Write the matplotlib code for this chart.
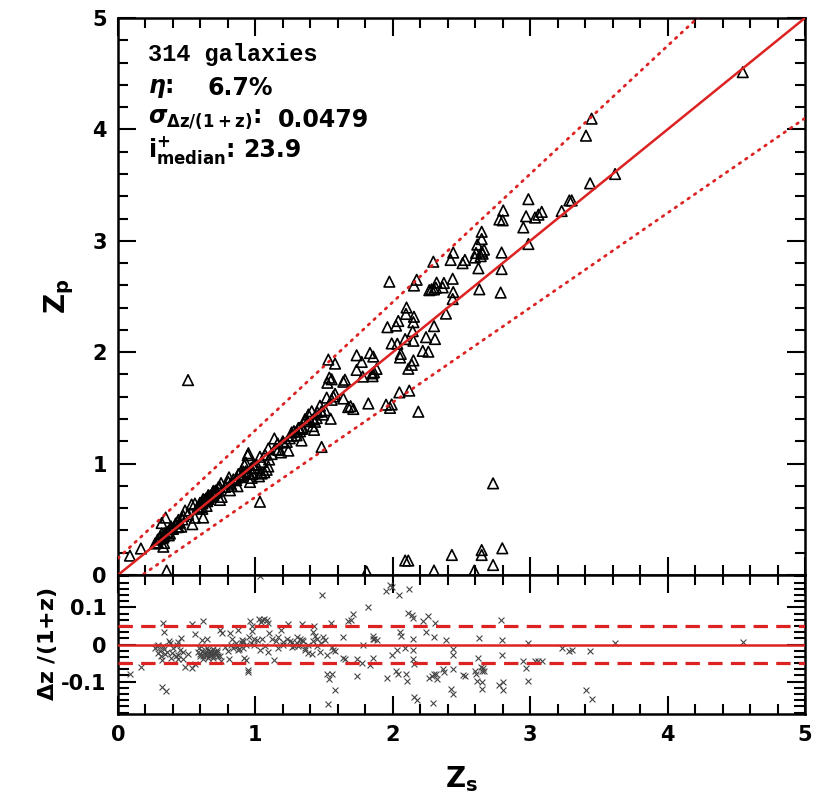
import numpy as np
import matplotlib.pyplot as plt
from matplotlib.ticker import MultipleLocator

plt.rcParams['mathtext.fontset'] = 'custom'
plt.rcParams['mathtext.rm'] = 'DejaVu Sans:bold'
plt.rcParams['mathtext.it'] = 'DejaVu Sans:italic:bold'
plt.rcParams['mathtext.bf'] = 'DejaVu Sans:bold'

# spectroscopic z and residual (zs - zp)/(1+zs)
zs_a = [0.087, 0.167, 0.318, 0.347, 0.33, 0.335, 0.286, 0.306, 0.337, 0.342, 0.318, 0.289,
        0.378, 0.39, 0.386, 0.44, 0.45, 0.46, 0.434, 0.44, 0.475, 0.51, 0.541, 0.536, 0.56,
        0.488, 0.62, 0.614, 0.604, 0.614, 0.597, 0.62, 0.645, 0.657, 0.67, 0.68, 0.694,
        0.706, 0.718, 0.73, 0.694, 0.657, 0.633, 0.75, 0.742, 0.779, 0.815, 0.803, 0.808,
        0.827, 0.87, 0.864, 0.876, 0.9, 0.905, 0.912, 0.92, 0.93, 0.944, 0.949, 0.961,
        0.973, 0.978, 1.026, 1.046, 1.065, 1.082, 1.04, 1.094, 1.046, 1.033, 1.07, 1.094,
        1.138, 1.118, 1.167, 1.186, 1.203, 1.228, 1.24, 1.264, 1.01, 0.992, 1.162, 0.754, 0.56]
dz_a = [-0.080, -0.061, -0.113, -0.125, 0.057, 0.035, -0.005, -0.018, -0.012, -0.025, -0.041, -0.023,
        0.004, -0.023, -0.036, 0.006, -0.014, 0.018, -0.029, -0.038, -0.038, -0.025, 0.055, -0.063, -0.052,
        -0.061, 0.064, 0.012, -0.005, -0.018, -0.032, -0.038, 0.015, -0.016, -0.025, -0.020, -0.012,
        -0.023, -0.016, -0.032, -0.036, -0.036, -0.025, -0.043, 0.039, -0.007, 0.030, -0.018, -0.038,
        0.015, 0.039, -0.005, -0.016, 0.011, 0.004, -0.009, -0.036, -0.041, -0.068, -0.074, 0.064,
        0.051, 0.036, 0.069, 0.066, 0.069, 0.066, 0.060, 0.057, 0.015, -0.014, -0.005, -0.020,
        -0.041, 0.015, 0.020, 0.039, 0.006, 0.015, 0.055, -0.007, 0.011, 0.000, -0.009, 0.030, 0.029]

zs_b = [1.264, 1.336, 1.30, 1.313, 1.325, 1.344, 1.361, 1.386, 1.41, 1.417, 1.427, 1.434,
        1.446, 1.47, 1.482, 1.49, 1.507, 1.519, 1.524, 1.538, 1.555, 1.548, 1.555, 1.567,
        1.58, 1.58, 1.531, 1.64, 1.652, 1.676, 1.693, 1.713, 1.737, 1.781, 1.774, 1.822,
        1.834, 1.853, 1.863, 1.882, 1.951, 1.98, 1.992, 2.048, 1.961, 1.992, 2.024, 2.04,
        2.033, 2.053, 2.058, 2.09, 2.096, 2.10, 2.12, 2.113, 2.138, 2.15, 2.15, 2.145,
        2.15, 2.154, 2.154, 2.174, 2.218, 2.242, 2.259, 2.30, 2.307, 2.295, 2.266, 2.282,
        2.30, 2.314, 2.319, 2.363, 2.372, 2.387, 2.436, 2.44, 2.436, 2.421, 2.44, 2.508,
        1.64, 1.737, 1.858, 1.853]
dz_b = [0.006, 0.055, 0.020, -0.003, 0.015, 0.009, -0.016, -0.023, -0.025, 0.033, 0.051, 0.024,
        0.015, -0.020, 0.134, 0.020, 0.011, -0.029, -0.080, -0.092, -0.079, 0.057, -0.007, -0.014,
        -0.018, -0.123, -0.159, 0.021, -0.038, 0.063, 0.066, 0.082, -0.086, 0.000, -0.050, 0.100,
        -0.056, 0.024, 0.015, 0.011, 0.143, 0.161, 0.154, 0.134, -0.089, -0.029, -0.071, -0.079,
        -0.014, 0.033, 0.024, -0.009, -0.080, -0.097, 0.149, 0.084, 0.080, 0.071, 0.015, -0.014,
        -0.038, -0.052, -0.141, -0.150, 0.064, 0.033, 0.078, 0.020, 0.057, -0.157, -0.089, -0.086,
        -0.080, -0.080, -0.092, -0.065, -0.074, 0.012, -0.012, -0.029, -0.065, -0.119, -0.132, -0.083,
        -0.036, -0.038, -0.036, 0.015]

zs_c = [2.525, 2.598, 2.606, 2.615, 2.623, 2.63, 2.64, 2.647, 2.654, 2.664, 2.647, 2.647,
        2.785, 2.792, 2.792, 2.776, 2.80, 2.804, 2.95, 2.97, 2.987, 2.987, 3.035, 3.06,
        3.084, 3.229, 3.285, 3.302, 3.436, 3.406, 3.447, 3.618, 4.547]
dz_c = [-0.086, -0.070, -0.079, -0.097, -0.036, 0.018, -0.061, -0.070, -0.063, -0.070, -0.101, -0.119,
        0.066, 0.012, -0.027, -0.110, -0.101, -0.123, -0.043, -0.063, 0.004, -0.097, -0.043, -0.043,
        -0.043, -0.009, -0.018, -0.014, -0.018, -0.122, -0.146, 0.004, 0.006]

# crowded parts of the sequence where markers overlap
zs_d = [0.27, 0.29, 0.31, 0.33, 0.36, 0.37, 0.40, 0.42, 0.43, 0.47,
        0.58, 0.60, 0.62, 0.63, 0.64, 0.66, 0.67, 0.69, 0.70, 0.71, 0.72, 0.74, 0.59, 0.65,
        0.82, 0.84, 0.86, 0.88, 0.91, 0.93, 0.95, 0.97, 0.99,
        1.10, 1.15, 1.20, 1.25, 1.28, 1.30, 1.32, 1.34, 1.36, 1.38, 1.42, 1.45, 1.48]
dz_d = [-0.010, 0.000, -0.030, -0.005, -0.020, 0.010, -0.010, -0.030, 0.000, -0.020,
        -0.020, -0.025, -0.030, -0.020, -0.028, -0.030, -0.018, -0.030, -0.020, -0.028, -0.020, -0.030, -0.010, -0.008,
        0.000, -0.010, 0.005, -0.012, 0.010, 0.000, 0.020, 0.005, 0.015,
        0.030, 0.010, 0.000, 0.010, -0.005, 0.005, 0.000, 0.012, -0.010, 0.000, 0.010, -0.005, 0.005]

# catastrophic outliers (zs, zp)
zs_out = [0.51, 0.354, 1.81, 2.09, 2.113, 2.30, 2.43, 2.593, 2.647, 2.647, 2.73, 2.797,
          2.73, 1.975, 2.186, 1.033]
zp_out = [1.75, 0.04, 0.03, 0.13, 0.13, 0.04, 0.18, 0.04, 0.224, 0.18, 0.09, 0.24,
          0.823, 2.633, 1.466, 0.658]

zs_core = np.array(zs_a + zs_b + zs_c + zs_d)
dz_core = np.array(dz_a + dz_b + dz_c + dz_d)
zp_core = zs_core - dz_core * (1 + zs_core)

zs = np.concatenate([zs_core, zs_out])
zp = np.concatenate([zp_core, zp_out])
dz = (zs - zp) / (1 + zs)

red = '#dd2222'
fig = plt.figure(figsize=(8.21, 8.02), dpi=100)
ax1 = fig.add_axes([0.1437, 0.2830, 0.8368, 0.6946])
ax2 = fig.add_axes([0.1437, 0.1097, 0.8368, 0.1733])

xx = np.array([0, 5])
ax1.plot(xx, xx, color=red, lw=1.8, zorder=3)
ax1.plot(xx, xx + 0.15 * (1 + xx), color=red, lw=2, ls=(0, (0.6, 2.2)), dash_capstyle='round', zorder=3)
ax1.plot(xx, xx - 0.15 * (1 + xx), color=red, lw=2, ls=(0, (0.6, 2.2)), dash_capstyle='round', zorder=3)
ax1.scatter(zs, zp, marker='^', s=58, facecolors='none', edgecolors='k', linewidths=1.2, zorder=2)
ax1.set_xlim(0, 5)
ax1.set_ylim(0, 5)
ax1.tick_params(labelbottom=False)
ax1.set_ylabel(r'$\mathrm{Z_p}$', fontsize=20, labelpad=12)

ax2.axhline(0, color=red, lw=1.8, zorder=3)
for v in (0.05, -0.05):
    ax2.axhline(v, color=red, lw=2.3, ls=(0, (4.5, 2.6)), zorder=3)
ax2.scatter(zs, dz, marker='x', s=18, color='#444444', linewidths=0.8, zorder=2)
ax2.set_xlim(0, 5)
ax2.set_ylim(-0.187, 0.187)
ax2.set_yticks([-0.1, 0, 0.1])
ax2.set_yticklabels(['-0.1', '0', '0.1'])
ax2.set_xlabel(r'$\mathrm{Z_s}$', fontsize=20, labelpad=14)
ax2.set_ylabel(r'$\Delta\mathrm{z}$ /(1+z)', fontsize=16, fontweight='bold', labelpad=2)

for ax in (ax1, ax2):
    ax.xaxis.set_major_locator(MultipleLocator(1))
    ax.xaxis.set_minor_locator(MultipleLocator(0.2))
    ax.tick_params(which='both', direction='in', top=True, right=True, width=1.5,
                   labelsize=15, pad=8)
    ax.tick_params(which='major', length=13)
    ax.tick_params(which='minor', length=7)
    for s in ax.spines.values():
        s.set_linewidth(1.8)
    for lab in ax.get_xticklabels() + ax.get_yticklabels():
        lab.set_fontweight('bold')
ax1.yaxis.set_major_locator(MultipleLocator(1))
ax1.yaxis.set_minor_locator(MultipleLocator(0.2))
ax2.yaxis.set_minor_locator(MultipleLocator(0.1 / 6))
ax2.tick_params(which='minor', axis='y', length=8)

tk = dict(transform=ax1.transAxes, fontsize=17, va='center', fontweight='bold')
ax1.text(0.044, 0.934, '314 galaxies', family='Liberation Mono', **tk)
ax1.text(0.044, 0.874, r'$\eta$:', **tk)
ax1.text(0.13, 0.874, '6.7%', **tk)
ax1.text(0.044, 0.817, r'$\sigma_{\mathrm{\Delta z/(1+z)}}$:', **tk)
ax1.text(0.233, 0.817, '0.0479', **tk)
ax1.text(0.044, 0.763, r'i$^{\mathrm{+}}_{\mathrm{median}}$:', **tk)
ax1.text(0.182, 0.763, '23.9', **tk)

fig.savefig('out.png', dpi=100)
